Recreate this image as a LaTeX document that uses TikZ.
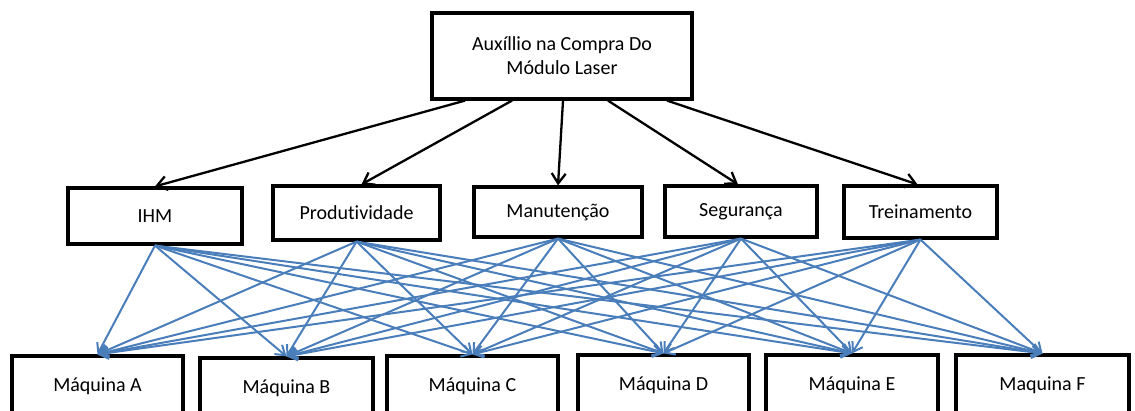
\documentclass[tikz,border=0pt]{standalone}
\usepackage{fontspec}
\setmainfont{Carlito}[Ligatures=NoCommon]
\usepackage{tikz}
\usetikzlibrary{arrows.meta}
\definecolor{linkblue}{RGB}{74,126,187}
\pgfkeys{tikz/box/.style={draw, line width=3.2pt, inner sep=0pt,
                              font=\fontsize{20}{24}\selectfont, align=center}}
\pgfkeys{tikz/mainarrow/.style={-{Straight Barb[length=10pt,width=14pt]}, line width=2.3pt}}
\pgfkeys{tikz/linkarrow/.style={-{Straight Barb[length=9pt,width=12pt]}, line width=2pt, linkblue}}

\begin{document}
\begin{tikzpicture}[x=1pt, y=-1pt]
                \useasboundingbox (0,0) rectangle (1135,410);
                \clip (0,0) rectangle (1135,410);

                \node[box, minimum width=260, minimum height=86] (top) at (562, 56) {Auxíllio na Compra Do\\Módulo Laser};

                \node[box, minimum width=174, minimum height=56] (ihm) at (155, 216) {IHM};
                \node[box, minimum width=167, minimum height=54] (prod) at (356.5, 213) {Produtividade};
                \node[box, minimum width=168, minimum height=50] (manut) at (558, 212) {Manutenção};
                \node[box, minimum width=152, minimum height=51] (seg) at (741, 211.5) {Segurança};
                \node[box, minimum width=153, minimum height=52] (trein) at (920.5, 212) {Treinamento};

                \draw[mainarrow] ([xshift=-97]top.south) -- (ihm.north);
                \draw[mainarrow] ([xshift=-50]top.south) -- ([xshift=5]prod.north);
                \draw[mainarrow] ([xshift=1]top.south) -- (manut.north);
                \draw[mainarrow] ([xshift=46]top.south) -- ([xshift=-3]seg.north);
                \draw[mainarrow] ([xshift=105]top.south) -- ([xshift=-3]trein.north);

                \node[box, minimum width=171, minimum height=60] (ma) at (97.5, 386) {Máquina A};
                \node[box, minimum width=173, minimum height=60] (mb) at (286.5, 388) {Máquina B};
                \node[box, minimum width=171, minimum height=60] (mc) at (472.5, 386) {Máquina C};
                \node[box, minimum width=171, minimum height=60] (md) at (663.5, 385) {Máquina D};
                \node[box, minimum width=172, minimum height=60] (me) at (852, 385) {Máquina E};
                \node[box, minimum width=173, minimum height=60] (mf) at (1042.5, 385) {Maquina F};

                \draw[linkarrow] (ihm.south) -- (ma.north);
                \draw[linkarrow] (ihm.south) -- (mb.north);
                \draw[linkarrow] (ihm.south) -- (mc.north);
                \draw[linkarrow] (ihm.south) -- (md.north);
                \draw[linkarrow] (ihm.south) -- (me.north);
                \draw[linkarrow] (ihm.south) -- (mf.north);

                \draw[linkarrow] (prod.south) -- (ma.north);
                \draw[linkarrow] (prod.south) -- (mb.north);
                \draw[linkarrow] (prod.south) -- (mc.north);
                \draw[linkarrow] (prod.south) -- (md.north);
                \draw[linkarrow] (prod.south) -- (me.north);
                \draw[linkarrow] (prod.south) -- (mf.north);

                \draw[linkarrow] (manut.south) -- (ma.north);
                \draw[linkarrow] (manut.south) -- (mb.north);
                \draw[linkarrow] (manut.south) -- (mc.north);
                \draw[linkarrow] (manut.south) -- (md.north);
                \draw[linkarrow] (manut.south) -- (me.north);
                \draw[linkarrow] (manut.south) -- (mf.north);

                \draw[linkarrow] (seg.south) -- (ma.north);
                \draw[linkarrow] (seg.south) -- (mb.north);
                \draw[linkarrow] (seg.south) -- (mc.north);
                \draw[linkarrow] (seg.south) -- (md.north);
                \draw[linkarrow] (seg.south) -- (me.north);
                \draw[linkarrow] (seg.south) -- (mf.north);

                \draw[linkarrow] (trein.south) -- (ma.north);
                \draw[linkarrow] (trein.south) -- (mb.north);
                \draw[linkarrow] (trein.south) -- (mc.north);
                \draw[linkarrow] (trein.south) -- (md.north);
                \draw[linkarrow] (trein.south) -- (me.north);
                \draw[linkarrow] (trein.south) -- (mf.north);

            \end{tikzpicture}
\end{document}
